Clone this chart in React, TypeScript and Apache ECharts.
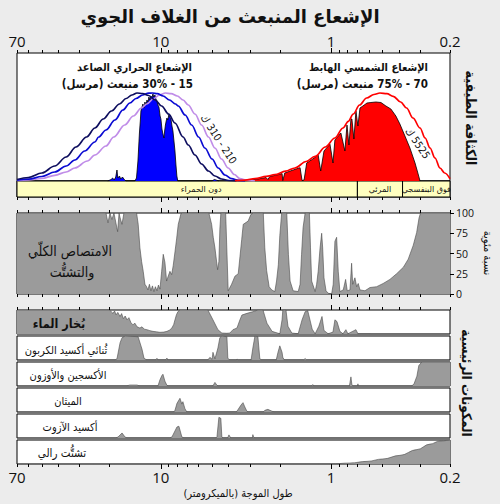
import React, { useEffect, useRef } from "react";
import * as echarts from "echarts";

// ---------------- axis definitions (wavelength in micrometres) ----------------
const WAVE_MIN = 0.2;
const WAVE_MAX = 70;
const TICKS_MAJOR = [10, 1];
const TICKS_MINOR = [70, 60, 50, 40, 30, 20, 9, 8, 7, 6, 5, 4, 3, 2, 0.9, 0.8, 0.7, 0.6, 0.5, 0.4, 0.3, 0.2];
const TICK_LABEL_VALUES = [70, 10, 1, 0.2];
const TICK_LABELS = ["70", "10", "1", "0.2"];

// spectral bands under the top panel
const BAND_NAMES = ["دون الحمراء", "المرئي", "فوق البنفسجي"];
const BAND_EDGES = [70, 0.7, 0.38, 0.2];

// ---------------- top panel: spectral intensity (relative units) ----------------
const PLANCK_210K: [number, number][] = [
  [70, 1.5], [60, 3.5], [50, 8], [42, 15], [36, 24], [31.5, 34], [27.3, 44], [24.4, 53], [21.8, 62],
  [19.5, 70], [17.5, 77], [16, 82.5], [14.8, 86], [13.8, 88], [12.8, 87.5], [11.8, 85.5], [10.8, 81],
  [9.9, 75], [9, 67], [8.26, 58], [7.4, 44], [6.9, 36], [6.3, 26], [5.76, 17], [5.25, 10], [4.81, 5],
  [4.4, 2], [4.0, 0.5], [3.6, 0],
];
const PLANCK_260K: [number, number][] = [
  [70, 0.8], [60, 1.8], [50, 4.5], [42, 9], [36, 15], [32, 21], [28, 30], [24.4, 39], [23.2, 44], [21, 51],
  [18.6, 61], [16.7, 71], [15.2, 78], [14, 82.5], [12.8, 86], [11.8, 87.8], [11.2, 88], [10.5, 87.3],
  [9.7, 85], [8.9, 81], [8.2, 77], [7.9, 75], [7.2, 66], [6.59, 56], [6, 44], [5.51, 33], [5, 22],
  [4.6, 13], [4.2, 6], [3.84, 2.3], [3.5, 0.6], [3.2, 0],
];
const PLANCK_310K: [number, number][] = [
  [70, 0.4], [60, 1], [50, 2.5], [42, 5.7], [36, 9], [32, 13], [27, 20], [24.4, 26], [21, 35], [18.9, 44],
  [16.3, 56], [14.5, 65], [13, 73], [12.1, 77], [11, 82.5], [10.2, 86], [9.4, 88], [8.7, 87.3], [8, 85],
  [7.4, 81], [6.9, 76], [6.3, 67], [5.76, 56], [5.25, 44], [4.81, 33], [4.4, 22], [4.02, 13], [3.7, 6.5],
  [3.43, 2.3], [3.1, 0.6], [2.8, 0],
];
const PLANCK_5525K: [number, number][] = [
  [3.67, 0.3], [3.2, 0.8], [2.8, 2.3], [2.4, 4.6], [2.14, 6.3], [1.85, 9.8], [1.63, 13], [1.4, 19.5],
  [1.24, 24.7], [1.08, 34], [0.949, 43], [0.85, 53], [0.792, 59.7], [0.74, 67], [0.68, 76], [0.618, 83],
  [0.56, 86.5], [0.516, 88], [0.47, 87.3], [0.431, 84.7], [0.39, 79], [0.36, 73], [0.33, 63], [0.3, 53],
  [0.28, 43], [0.262, 33], [0.245, 23], [0.229, 13], [0.215, 8], [0.2, 2.3],
];
const THERMAL_UP: [number, number][] = [
  [20.5, 0], [19.6, 1.5], [19.2, 3], [18.8, 1], [18.4, 4], [18.1, 11], [17.9, 3], [17.5, 5], [17.2, 2],
  [16.8, 4], [16.4, 1.5], [16, 0], [14.2, 0], [13.9, 3], [13.63, 20], [13.36, 48], [13.2, 60], [13.09, 70],
  [12.9, 74], [12.74, 77], [12.6, 73], [12.4, 79], [12.2, 76], [12.07, 81], [11.9, 79], [11.75, 84],
  [11.6, 81], [11.44, 85], [11.3, 83], [11.13, 87], [11.0, 84], [10.83, 86], [10.7, 82], [10.54, 80],
  [10.4, 76], [10.26, 74], [10.1, 65], [9.99, 62], [9.85, 52], [9.75, 48], [9.59, 43], [9.5, 50],
  [9.4, 56], [9.3, 60], [9.21, 63], [9.1, 61], [8.96, 67], [8.85, 64], [8.72, 62], [8.6, 55], [8.49, 50],
  [8.35, 38], [8.26, 30], [8.15, 16], [8.05, 5], [7.95, 0], [5.0, 0], [4.85, 1.5], [4.7, 0.8], [4.55, 0],
];
const SOLAR_DOWN: [number, number][] = [
  [3.08, 0.5], [2.69, 2], [2.41, 3.5], [2.35, 1.5], [2.29, 4.5], [2.02, 6.5], [1.94, 7.5], [1.92, 0.5],
  [1.87, 8], [1.67, 11], [1.54, 13], [1.52, 13.3], [1.48, 0.5], [1.44, 1], [1.39, 18], [1.28, 22],
  [1.19, 26], [1.15, 10], [1.1, 30], [1.015, 37], [0.974, 18], [0.949, 41], [0.875, 48], [0.829, 30],
  [0.806, 56], [0.785, 36], [0.764, 62], [0.754, 62], [0.734, 42], [0.714, 70], [0.695, 55], [0.676, 73],
  [0.65, 75], [0.615, 78], [0.583, 78.5], [0.545, 79], [0.509, 78.5], [0.476, 75], [0.445, 72],
  [0.416, 65], [0.394, 57], [0.368, 45], [0.344, 33], [0.321, 18], [0.309, 8], [0.3, 0],
];

// ---------------- middle panel: total absorption and scattering (%) ----------------
const TOTAL_ABSORPTION: [number, number][] = [
  [70, 100], [21, 100], [20.45, 88], [19.9, 100], [19.38, 92], [18.86, 100], [17.94, 77], [17.6, 100],
  [17.39, 95], [16.92, 86], [16.48, 100], [13.88, 100], [13.58, 86], [13.27, 57], [12.97, 40], [12.69, 28],
  [12.4, 12], [12.12, 9], [11.91, 5], [11.67, 12], [11.44, 4], [11.2, 10], [10.98, 3], [10.76, 9],
  [10.54, 4], [10.33, 11], [10.12, 6], [9.89, 28], [9.68, 49], [9.46, 39], [9.25, 16], [9.05, 22],
  [8.84, 28], [8.64, 24], [8.46, 35], [8.26, 52], [8.08, 68], [7.9, 86], [7.62, 99], [7.5, 100],
  [5.22, 100], [5.03, 86], [4.92, 70], [4.81, 57], [4.64, 30], [4.56, 40], [4.5, 80], [4.44, 100],
  [4.16, 100], [4.02, 4], [3.84, 12], [3.67, 22], [3.51, 25], [3.35, 67], [3.28, 86], [3.07, 90],
  [2.96, 98], [2.87, 100], [2.5, 100], [2.45, 57], [2.39, 29], [2.31, 9], [2.23, 5], [2.14, 3],
  [2.09, 16], [2.04, 36], [2.0, 72], [1.95, 100], [1.82, 100], [1.78, 49], [1.74, 16], [1.67, 4],
  [1.56, 3], [1.52, 12], [1.49, 49], [1.46, 82], [1.42, 100], [1.34, 100], [1.32, 57], [1.3, 16],
  [1.24, 3], [1.215, 12], [1.19, 28], [1.16, 57], [1.135, 75], [1.12, 57], [1.1, 20], [1.07, 4],
  [1.04, 1], [0.992, 0], [0.971, 12], [0.949, 65], [0.927, 70], [0.907, 28], [0.887, 3], [0.848, 5],
  [0.821, 18], [0.803, 4], [0.774, 5], [0.757, 38], [0.746, 12], [0.724, 20], [0.707, 9], [0.692, 13],
  [0.676, 5], [0.632, 4], [0.591, 8], [0.54, 9], [0.494, 13], [0.451, 18], [0.412, 25], [0.376, 33],
  [0.352, 43], [0.329, 60], [0.314, 76], [0.304, 94], [0.298, 100], [0.2, 100],
];

// ---------------- bottom panels: major components (%) ----------------
const WATER_VAPOUR: [number, number][] = [
  [70, 100], [20, 100], [19.5, 92], [19.1, 86], [18.7, 96], [18.3, 80], [17.9, 90], [17.36, 73], [17, 85],
  [16.6, 64], [16.2, 75], [15.8, 59], [15.4, 68], [15, 48], [14.6, 38], [14.2, 45], [13.8, 30], [13.27, 25],
  [12.9, 30], [12.5, 20], [12.07, 18], [11.6, 14], [11.13, 11], [10.6, 9], [10.12, 7], [9.6, 8], [9.21, 11],
  [8.9, 16], [8.61, 25], [8.4, 40], [8.26, 59], [8.1, 80], [7.94, 93], [7.72, 100], [5.29, 100], [4.94, 59],
  [4.62, 18], [4.38, 4], [4.1, 3], [3.93, 4], [3.77, 18], [3.57, 25], [3.43, 59], [3.34, 79], [3.12, 86],
  [2.88, 93], [2.69, 100], [2.51, 100], [2.38, 45], [2.22, 11], [2.0, 1], [1.94, 59], [1.92, 100],
  [1.84, 100], [1.79, 32], [1.7, 4], [1.56, 1], [1.48, 59], [1.42, 93], [1.37, 97], [1.29, 20], [1.24, 1],
  [1.18, 32], [1.13, 73], [1.1, 15], [1.04, 1], [0.974, 8], [0.949, 59], [0.923, 52], [0.887, 11],
  [0.851, 1], [0.818, 18], [0.796, 1], [0.714, 18], [0.695, 1], [0.591, 1], [0.58, 0], [0.2, 0],
];
const CARBON_DIOXIDE: [number, number][] = [
  [70, 0], [18.6, 0], [18.1, 5], [17.36, 72], [16.9, 93], [16.23, 100], [13.6, 97], [12.9, 45], [12.55, 7],
  [12.07, 0], [10.7, 0], [10.54, 7], [10.4, 0], [9.35, 0], [9.21, 8], [9.1, 0], [5.3, 0], [5.15, 11],
  [5.0, 3], [4.94, 32], [4.81, 5], [4.62, 50], [4.5, 93], [4.38, 100], [4.09, 97], [4.04, 7], [3.93, 0],
  [3.6, 0], [3.57, 4], [3.5, 0], [2.95, 0], [2.88, 50], [2.8, 100], [2.69, 97], [2.62, 5], [2.55, 0],
  [2.1, 0], [2.05, 32], [2.0, 59], [1.94, 32], [1.92, 11], [1.88, 0], [1.45, 0], [1.42, 6], [1.39, 0], [0.2, 0],
];
const OXYGEN_OZONE: [number, number][] = [
  [70, 0], [16, 0], [15.2, 4], [13.8, 4], [13.3, 0], [10.4, 0], [10.12, 26], [9.85, 44], [9.72, 49],
  [9.46, 20], [9.21, 3], [9.0, 0], [4.95, 0], [4.81, 15], [4.68, 3], [4.6, 0], [1.3, 0], [1.28, 6],
  [1.26, 0], [0.78, 0], [0.764, 38], [0.754, 5], [0.74, 0], [0.7, 0], [0.695, 9], [0.69, 0], [0.335, 0],
  [0.325, 10], [0.313, 41], [0.305, 85], [0.293, 100], [0.2, 100],
];
const METHANE: [number, number][] = [
  [70, 0], [8.4, 0], [8.26, 7], [8.04, 36], [7.72, 57], [7.52, 33], [7.42, 43], [7.22, 14], [7.03, 0],
  [3.6, 0], [3.52, 10], [3.38, 29], [3.29, 39], [3.21, 21], [3.12, 3], [3.05, 0], [2.5, 0], [2.45, 7],
  [2.35, 11], [2.22, 3], [2.15, 0], [0.2, 0],
];
const NITROUS_OXIDE: [number, number][] = [
  [70, 0], [18.5, 0], [17.85, 4], [16.9, 21], [16.23, 4], [15.8, 0], [8.9, 0], [8.61, 4], [8.04, 46],
  [7.83, 49], [7.52, 4], [7.3, 0], [4.75, 0], [4.68, 5], [4.56, 86], [4.44, 82], [4.38, 4], [4.3, 0],
  [4.05, 0], [3.98, 13], [3.88, 0], [2.9, 0], [2.88, 14], [2.84, 1], [2.8, 0], [0.2, 0],
];
const RAYLEIGH: [number, number][] = [
  [70, 0], [1.015, 0], [0.774, 4], [0.615, 11], [0.496, 21], [0.394, 36], [0.313, 60], [0.262, 83],
  [0.229, 96], [0.2, 100],
];

// ---------------- texts ----------------
const TITLE = "الإشعاع المنبعث من الغلاف الجوي";
const UP_TITLE = "الإشعاع الحراري الصاعد";
const UP_SHARE = "15 - 30% منبعث (مرسل)";
const DOWN_TITLE = "الإشعاع الشمسي الهابط";
const DOWN_SHARE = "70 - 75% منبعث (مرسل)";
const THERMAL_TEMPS = "210 - 310 ك";
const SOLAR_TEMP = "5525 ك";
const INTENSITY_NAME = "الكثافة الطيفية";
const PERCENT_NAME = "نسبة مئوية";
const ABSORPTION_LINE1 = "الامتصاص الكلّي";
const ABSORPTION_LINE2 = "والتشتُّت";
const COMPONENTS_NAME = "المكونات الرئيسية";
const COMPONENT_NAMES = [
  "بُخار الماء",
  "ثُنائي أكسيد الكربون",
  "الأكسجين والأوزون",
  "الميثان",
  "أكسيد الآزوت",
  "تشتُّت رالي",
];
const X_NAME = "طول الموجة (بالميكرومتر)";

// ---------------- styling ----------------
const BG = "#ececec";
const NUM_FONT = "'Open Sans', 'DejaVu Sans', sans-serif";
const AR_FONT = "'DejaVu Sans', sans-serif";
const AR_NARROW = "'DejaVu Sans Condensed', 'DejaVu Sans', sans-serif";
const GRAY = "#9b9b9b";
const GRAY_LINE = "#4a4a4a";

const L = (w: number) => Math.log10(w);
const toXY = (arr: [number, number][]) => arr.map(([w, v]) => [L(w), v]);
const rtl = (s: string) => "\u202B" + s + "\u202C";

function labelFor(v: number) {
  let best = 0;
  let d = Infinity;
  TICK_LABEL_VALUES.forEach((w, i) => {
    const dd = Math.abs(L(w) - v);
    if (dd < d) {
      d = dd;
      best = i;
    }
  });
  return TICK_LABELS[best];
}

function xAxisBase(gridIndex: number, position: string) {
  return {
    type: "value",
    gridIndex,
    position,
    min: L(WAVE_MIN),
    max: L(WAVE_MAX),
    inverse: true,
    axisLine: { show: false, onZero: false },
    splitLine: { show: false },
    axisTick: { show: false },
    axisLabel: { show: false },
  };
}

function tickAxis(gridIndex: number, position: string, values: number[], length: number, labels = false) {
  return {
    ...xAxisBase(gridIndex, position),
    axisTick: {
      show: true,
      inside: false,
      length,
      customValues: values.map(L),
      lineStyle: { color: "#000", width: 1 },
    },
    axisLabel: labels
      ? {
          show: true,
          customValues: TICK_LABEL_VALUES.map(L),
          formatter: (v: number) => labelFor(v),
          fontSize: 15,
          color: "#111",
          fontFamily: NUM_FONT,
          margin: 5,
          hideOverlap: false,
        }
      : { show: false },
  };
}

function buildOption() {
  const grid = (top: number, height: number, bg = "#fff") => ({
    left: 17,
    top,
    width: 433,
    height,
    show: true,
    backgroundColor: bg,
    borderColor: "#000",
    borderWidth: 1,
    containLabel: false,
    outerBoundsMode: "none",
  });
  const lowerTops = [310, 336, 362, 388, 414, 440];
  const grids = [
    grid(53, 128),
    grid(181, 16, "#ffffc0"),
    grid(213, 81),
    ...lowerTops.map((t) => grid(t, 24)),
  ];

  const xAxes: any[] = [
    tickAxis(0, "top", TICKS_MAJOR, 5, true), // 0
    tickAxis(0, "top", TICKS_MINOR, 3), // 1
    tickAxis(1, "bottom", TICKS_MAJOR, 5), // 2
    tickAxis(1, "bottom", TICKS_MINOR, 3), // 3
    tickAxis(2, "top", TICKS_MAJOR, 5), // 4
    tickAxis(2, "top", TICKS_MINOR, 3), // 5
    tickAxis(2, "bottom", TICKS_MAJOR, 5), // 6
    tickAxis(2, "bottom", TICKS_MINOR, 3), // 7
    tickAxis(3, "top", TICKS_MAJOR, 5), // 8
    tickAxis(3, "top", TICKS_MINOR, 3), // 9
    xAxisBase(4, "bottom"), // 10
    xAxisBase(5, "bottom"), // 11
    xAxisBase(6, "bottom"), // 12
    xAxisBase(7, "bottom"), // 13
    tickAxis(8, "bottom", TICKS_MAJOR, 5, true), // 14
    tickAxis(8, "bottom", TICKS_MINOR, 3), // 15
  ];

  const hiddenY = (gridIndex: number, max: number) => ({
    type: "value",
    gridIndex,
    min: 0,
    max,
    show: false,
    axisLine: { show: false, onZero: false },
    splitLine: { show: false },
  });
  const yAxes: any[] = [
    hiddenY(0, 128),
    hiddenY(1, 1),
    {
      type: "value",
      gridIndex: 2,
      position: "right",
      min: 0,
      max: 100,
      interval: 25,
      axisLine: { show: false, onZero: false },
      splitLine: { show: false },
      axisTick: { show: true, inside: false, length: 4, lineStyle: { color: "#000" } },
      axisLabel: { fontSize: 10.5, color: "#111", fontFamily: NUM_FONT, margin: 6 },
    },
    ...lowerTops.map((_, i) => hiddenY(3 + i, 100)),
  ];

  const base = (data: [number, number][], xi: number, yi: number) => ({
    type: "line",
    xAxisIndex: xi,
    yAxisIndex: yi,
    data: toXY(data),
    showSymbol: false,
    symbol: "none",
    silent: true,
    animation: false,
  });
  const area = (data: [number, number][], xi: number, yi: number, fill: string, stroke: string, w = 0.7) => ({
    ...base(data, xi, yi),
    lineStyle: { color: stroke, width: w },
    areaStyle: { color: fill, opacity: 1 },
  });
  const curve = (data: [number, number][], color: string) => ({
    ...base(data, 0, 0),
    smooth: 0.35,
    smoothMonotone: "x",
    lineStyle: { color, width: 1.7 },
    z: 5,
  });

  const lowerData = [WATER_VAPOUR, CARBON_DIOXIDE, OXYGEN_OZONE, METHANE, NITROUS_OXIDE];
  const lowerX = [8, 10, 11, 12, 13];

  const series: any[] = [
    area(THERMAL_UP, 0, 0, "#0000ff", "#000", 0.8),
    area(SOLAR_DOWN, 0, 0, "#ff0000", "#000", 0.8),
    curve(PLANCK_310K, "#c08de8"),
    curve(PLANCK_260K, "#0a0ad2"),
    curve(PLANCK_210K, "#0d0d5e"),
    curve(PLANCK_5525K, "#ff0000"),
    {
      type: "line",
      xAxisIndex: 2,
      yAxisIndex: 1,
      data: [],
      silent: true,
      markArea: {
        silent: true,
        itemStyle: { color: "#ffffc0", borderColor: "#000", borderWidth: 1 },
        label: { show: true, position: "inside", color: "#111", fontSize: 8, fontFamily: AR_FONT },
        data: BAND_NAMES.map((n, i) => [
          {
            name: rtl(n),
            xAxis: L(BAND_EDGES[i]),
            yAxis: 0,
            label: i === 0 ? { offset: [14, 0] } : {},
          },
          { xAxis: L(BAND_EDGES[i + 1]), yAxis: 1 },
        ]),
      },
    },
    area(TOTAL_ABSORPTION, 4, 2, GRAY, GRAY_LINE, 0.6),
    ...lowerData.map((d, i) => area(d, lowerX[i], 3 + i, GRAY, GRAY_LINE, 0.6)),
    { ...area(RAYLEIGH, 14, 8, GRAY, GRAY_LINE, 0.6), smooth: 0.4, smoothMonotone: "x" },
  ];

  const txt = (
    text: string,
    x: number,
    y: number,
    size: number,
    opts: { weight?: string; align?: string; rotation?: number; family?: string } = {}
  ) => {
    const weight = opts.weight || "normal";
    const family = opts.family || AR_NARROW;
    const align = opts.align || "center";
    return {
      type: "text",
      x,
      y,
      rotation: opts.rotation || 0,
      silent: true,
      z: 100,
      style: {
        text: rtl(text),
        fill: "#111",
        font: `${weight} ${size}px ${family}`,
        fontSize: size,
        fontWeight: weight,
        fontFamily: family,
        align,
        verticalAlign: "middle",
        textAlign: align,
        textVerticalAlign: "middle",
      },
    };
  };
  const V = -Math.PI / 2;
  const labelCenters = [
    [59, 323],
    [66, 350],
    [68, 375],
    [68, 401],
    [70, 427],
    [62, 453],
  ];
  const labelSizes = [12.5, 11, 11, 11, 11, 11.5];
  const elements = [
    txt(TITLE, 230, 16, 18, { weight: "bold", family: AR_FONT }),
    txt(UP_TITLE, 192, 67, 11, { weight: "bold", align: "right" }),
    txt(UP_SHARE, 193, 84, 11.5, { weight: "bold", align: "right" }),
    txt(DOWN_TITLE, 428, 67, 11, { weight: "bold", align: "right" }),
    txt(DOWN_SHARE, 428, 84, 11.5, { weight: "bold", align: "right" }),
    txt(THERMAL_TEMPS, 219, 139, 10.5, { rotation: (-57 * Math.PI) / 180 }),
    txt(SOLAR_TEMP, 418, 143, 10.5, { rotation: (-55 * Math.PI) / 180 }),
    txt(INTENSITY_NAME, 471, 118, 14, { weight: "bold", rotation: V }),
    txt(PERCENT_NAME, 487, 253, 11, { rotation: V }),
    txt(ABSORPTION_LINE1, 70, 251, 14),
    txt(ABSORPTION_LINE2, 72, 272, 14),
    txt(COMPONENTS_NAME, 467, 383, 13.5, { weight: "bold", rotation: V }),
    ...COMPONENT_NAMES.map((n, i) =>
      txt(n, labelCenters[i][0], labelCenters[i][1], labelSizes[i], {
        weight: i === 0 ? "bold" : "normal",
      })
    ),
    txt(X_NAME, 238, 493, 11),
  ];

  return {
    animation: false,
    backgroundColor: BG,
    grid: grids,
    xAxis: xAxes,
    yAxis: yAxes,
    series,
    graphic: { elements },
  };
}

export default function App() {
  const ref = useRef<HTMLDivElement>(null);
  useEffect(() => {
    document.body.style.margin = "0";
    const chart = echarts.init(ref.current as HTMLDivElement, null, { renderer: "svg" });
    chart.setOption(buildOption() as any);
    return () => {
      chart.dispose();
    };
  }, []);
  return <div ref={ref} style={{ width: 500, height: 504 }} />;
}
